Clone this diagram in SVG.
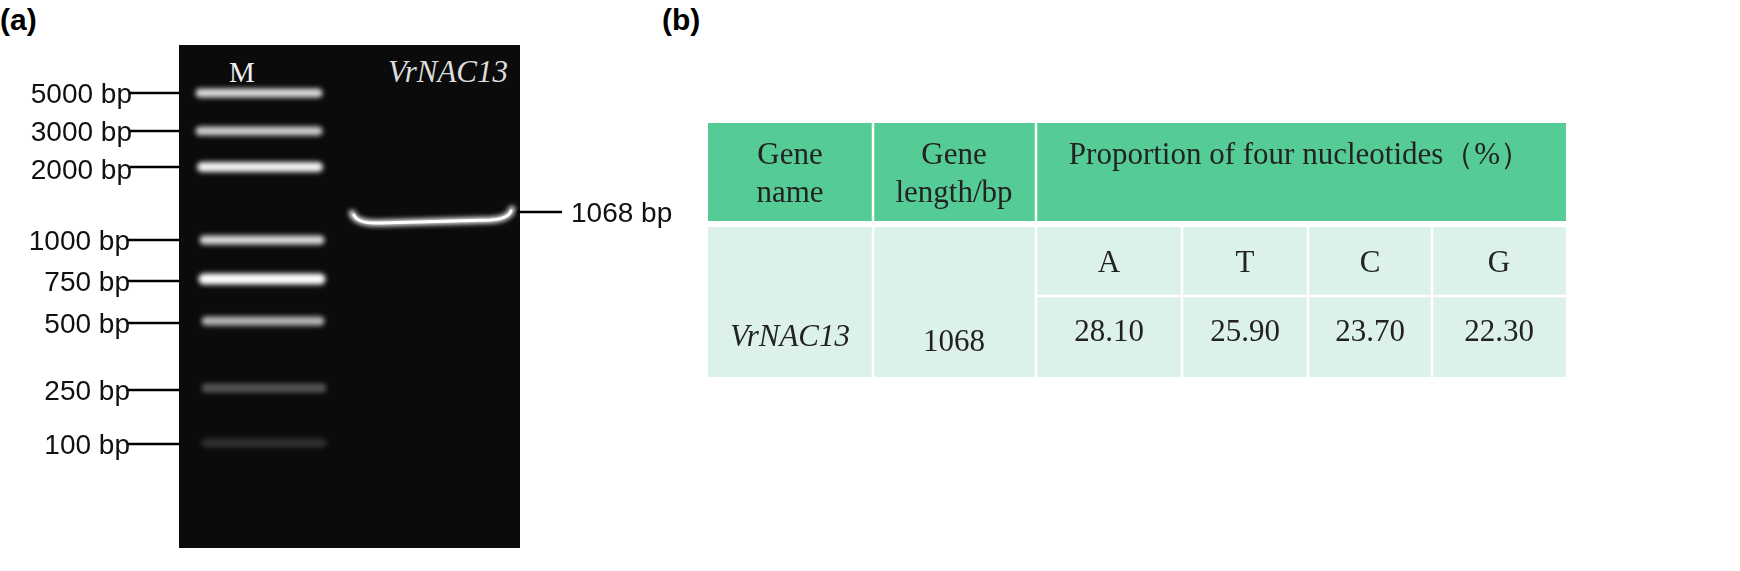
<svg xmlns="http://www.w3.org/2000/svg" width="1740" height="571" viewBox="0 0 1740 571">
<style>
.lbl{font-family:"Liberation Sans",Arial,sans-serif;font-size:28px;fill:#111}
.pl{font-family:"Liberation Sans",Arial,sans-serif;font-size:30px;font-weight:bold;fill:#000}
.tt{font-family:"Liberation Serif","Times New Roman",serif;font-size:31px;fill:#222;text-anchor:middle}
.tick{stroke:#000;stroke-width:2.5}
.band{stroke:#fff;stroke-linecap:round;fill:none}
</style>
<defs><filter id="bl"><feGaussianBlur stdDeviation="2.5"/></filter></defs>
<rect width="1740" height="571" fill="#fff"/>
<text class="pl" x="0" y="30">(a)</text>
<text class="pl" x="662" y="30">(b)</text>
<g id="gel">
<rect x="179" y="45" width="341" height="503" fill="#0b0b0b"/>
<text x="242" y="82" text-anchor="middle" style="font-family:'Liberation Serif',serif;font-size:29px;fill:#eee">M</text>
<text x="448" y="82" text-anchor="middle" style="font-family:'Liberation Serif',serif;font-size:31px;font-style:italic;fill:#ddd">VrNAC13</text>
<g filter="url(#bl)">
<line class="band" x1="200" y1="93" x2="318" y2="93" stroke-width="9" opacity="0.85"/>
<line class="band" x1="200" y1="131" x2="318" y2="131" stroke-width="9" opacity="0.8"/>
<line class="band" x1="202" y1="167" x2="318" y2="167" stroke-width="10" opacity="0.95"/>
<line class="band" x1="204" y1="240" x2="320" y2="240" stroke-width="9" opacity="0.85"/>
<line class="band" x1="204" y1="279" x2="320" y2="279" stroke-width="11" opacity="1"/>
<line class="band" x1="206" y1="321" x2="320" y2="321" stroke-width="9" opacity="0.7"/>
<line class="band" x1="206" y1="388" x2="322" y2="388" stroke-width="9" opacity="0.3"/>
<line class="band" x1="206" y1="443" x2="322" y2="443" stroke-width="9" opacity="0.15"/>
<path class="band" d="M352 213 Q356 224 380 223 L490 220 Q510 219 512 209" stroke-width="6"/>
</g>
<path class="band" d="M354 215 Q358 224 380 223 L490 220 Q508 219 511 211" stroke-width="3"/>
</g>
<g id="markers">
<g class="lbl" text-anchor="end">
<text x="132" y="103">5000 bp</text>
<text x="132" y="141">3000 bp</text>
<text x="132" y="179">2000 bp</text>
<text x="130" y="250">1000 bp</text>
<text x="130" y="291">750 bp</text>
<text x="130" y="333">500 bp</text>
<text x="130" y="400">250 bp</text>
<text x="130" y="454">100 bp</text>
</g>
<line class="tick" x1="130" y1="93" x2="179" y2="93"/>
<line class="tick" x1="130" y1="131" x2="179" y2="131"/>
<line class="tick" x1="130" y1="167" x2="179" y2="167"/>
<line class="tick" x1="128" y1="240" x2="179" y2="240"/>
<line class="tick" x1="128" y1="281" x2="179" y2="281"/>
<line class="tick" x1="128" y1="323" x2="179" y2="323"/>
<line class="tick" x1="128" y1="390" x2="179" y2="390"/>
<line class="tick" x1="128" y1="444" x2="179" y2="444"/>
<line class="tick" x1="517" y1="212" x2="562" y2="212"/>
<text class="lbl" x="571" y="222">1068 bp</text>
</g>
<g id="table">
<rect x="708" y="123" width="858" height="98" fill="#55cb95"/>
<rect x="708" y="227" width="858" height="150" fill="#dcf2e8"/>
<g stroke="#fff" stroke-width="2.5">
<line x1="873" y1="123" x2="873" y2="377"/>
<line x1="1036" y1="123" x2="1036" y2="377"/>
<line x1="1182" y1="227" x2="1182" y2="377"/>
<line x1="1308" y1="227" x2="1308" y2="377"/>
<line x1="1432" y1="227" x2="1432" y2="377"/>
<line x1="1036" y1="296" x2="1566" y2="296"/>
</g>
<text class="tt" x="790" y="164">Gene</text>
<text class="tt" x="790" y="202">name</text>
<text class="tt" x="954" y="164">Gene</text>
<text class="tt" x="954" y="202">length/bp</text>
<text class="tt" x="1300" y="164">Proportion of four nucleotides（%）</text>
<text class="tt" x="1109" y="272">A</text>
<text class="tt" x="1245" y="272">T</text>
<text class="tt" x="1370" y="272">C</text>
<text class="tt" x="1499" y="272">G</text>
<text class="tt" x="1109" y="341">28.10</text>
<text class="tt" x="1245" y="341">25.90</text>
<text class="tt" x="1370" y="341">23.70</text>
<text class="tt" x="1499" y="341">22.30</text>
<text class="tt" x="790" y="346" font-style="italic">VrNAC13</text>
<text class="tt" x="954" y="351">1068</text>
</g>
</svg>
